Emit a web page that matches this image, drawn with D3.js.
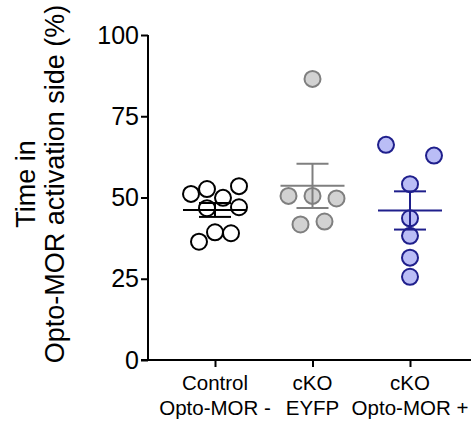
<!DOCTYPE html>
<html>
<head>
<meta charset="utf-8">
<script src="https://cdn.jsdelivr.net/npm/d3@7"></script>
<style>
  html, body { margin: 0; padding: 0; background: #fff; }
  svg { display: block; font-family: "Liberation Sans", Arial, Helvetica, sans-serif; }
</style>
</head>
<body>
<svg id="chart" width="471" height="425"></svg>
<script>
// Groups along the x axis (two-line labels)
const categories = ["control", "ckoEyfp", "ckoOpto"];
const categoryLines = [["Control", "Opto-MOR -"], ["cKO", "EYFP"], ["cKO", "Opto-MOR +"]];

// Time in Opto-MOR activation side (%) for each animal
const controlValues = [51.1, 52.6, 49.9, 53.5, 46.7, 47.0, 36.4, 39.3, 39.0];
const eyfpValues    = [86.5, 50.5, 50.5, 49.7, 41.7, 42.6];
const optoValues    = [66.2, 62.9, 54.1, 43.6, 38.2, 31.5, 25.6];

// Scatter spread of each point, in point radii from the group centre
const controlSpread = [-3, -1, 1, 3, -1, 3, -2, 0, 2];
const eyfpSpread    = [0, -3, 0, 3, -1.5, 1.5];
const optoSpread    = [-3, 3, 0, 0, 0, 0, 0];

const yTicks = [0, 25, 50, 75, 100];

const styles = {
  control: { fill: "#ffffff", stroke: "#000000" },
  ckoEyfp: { fill: "#d2d2d2", stroke: "#7f7f7f" },
  ckoOpto: { fill: "#babdf6", stroke: "#1f1f8c" }
};

const groups = [
  { key: "control", values: controlValues, spread: controlSpread },
  { key: "ckoEyfp", values: eyfpValues, spread: eyfpSpread },
  { key: "ckoOpto", values: optoValues, spread: optoSpread }
];

const svg = d3.select("#chart");
const r = 8;

const x = d3.scalePoint().domain(categories).range([215, 410]);
const y = d3.scaleLinear().domain([0, 100]).range([360, 35]);

// Y axis
const yAxis = svg.append("g")
  .attr("transform", "translate(148,0)")
  .call(d3.axisLeft(y).tickValues(yTicks).tickSize(7).tickPadding(2).tickFormat(d3.format("d")));
yAxis.select(".domain").attr("stroke", "#000").attr("stroke-width", 2).attr("d", "M0,35V361");
yAxis.selectAll(".tick line").attr("stroke", "#000").attr("stroke-width", 2);
yAxis.selectAll(".tick text").attr("font-size", 25).attr("fill", "#000");

// X axis
const xAxis = svg.append("g")
  .attr("transform", "translate(0,360)")
  .call(d3.axisBottom(x).tickSize(7).tickFormat(""));
xAxis.select(".domain").attr("stroke", "#000").attr("stroke-width", 2).attr("d", "M141,0H471");
xAxis.selectAll(".tick line").attr("stroke", "#000").attr("stroke-width", 2);

// Category labels
categories.forEach((c, i) => {
  const t = svg.append("text")
    .attr("text-anchor", "middle")
    .attr("font-size", 20.5)
    .attr("fill", "#000");
  categoryLines[i].forEach((line, j) => {
    t.append("tspan").attr("x", x(c)).attr("y", 390 + j * 25).text(line);
  });
});

// Y axis title
const title = svg.append("text")
  .attr("transform", "translate(0,184) rotate(-90)")
  .attr("text-anchor", "middle")
  .attr("font-size", 27)
  .attr("fill", "#000");
title.append("tspan").attr("x", 0).attr("y", 35).text("Time in");
title.append("tspan").attr("x", 0).attr("y", 64).text("Opto-MOR activation side (%)");

// Points, then mean and SEM lines
groups.forEach(g => {
  const st = styles[g.key];
  const cx = x(g.key);
  const pts = svg.append("g");
  pts.selectAll("circle")
    .data(g.values.map((v, i) => ({ v, s: g.spread[i] })))
    .join("circle")
    .attr("cx", d => cx + d.s * r)
    .attr("cy", d => y(d.v))
    .attr("r", r)
    .attr("fill", st.fill)
    .attr("stroke", st.stroke)
    .attr("stroke-width", 2);

  const mean = d3.mean(g.values);
  const sem = d3.deviation(g.values) / Math.sqrt(g.values.length);
  const lc = g.key === "control" ? "#000" : st.stroke;
  const lines = svg.append("g").attr("stroke", lc).attr("stroke-width", 2);
  lines.append("line").attr("x1", cx - 32).attr("x2", cx + 32).attr("y1", y(mean)).attr("y2", y(mean));
  lines.append("line").attr("x1", cx).attr("x2", cx).attr("y1", y(mean - sem)).attr("y2", y(mean + sem));
  [mean - sem, mean + sem].forEach(v => {
    lines.append("line").attr("x1", cx - 16).attr("x2", cx + 16).attr("y1", y(v)).attr("y2", y(v));
  });
});
</script>
</body>
</html>
